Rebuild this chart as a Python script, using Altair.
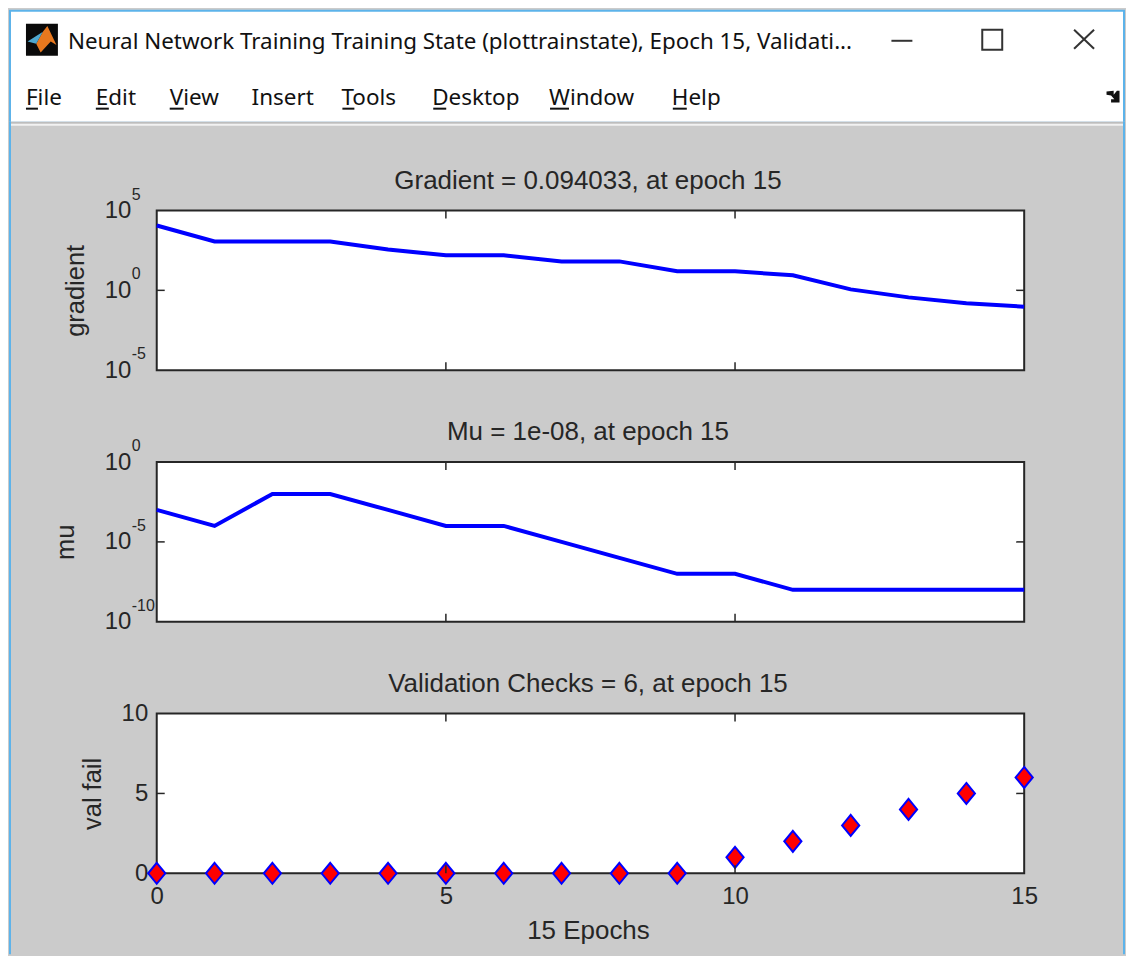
import altair as alt
import pandas as pd

epochs = list(range(16))
gradient = [11500, 1150, 1150, 1150, 363, 155, 155, 65, 65, 15.5, 15.5, 8.7, 1.15, 0.363, 0.155, 0.094033]
mu = [1e-3, 1e-4, 1e-2, 1e-2, 1e-3, 1e-4, 1e-4, 1e-5, 1e-6, 1e-7, 1e-7, 1e-8, 1e-8, 1e-8, 1e-8, 1e-8]
val_fail = [0, 0, 0, 0, 0, 0, 0, 0, 0, 0, 1, 2, 3, 4, 5, 6]
x_ticks = [5, 10]
window_title = "Neural Network Training Training State (plottrainstate), Epoch 15, Validati..."

FONT = "Liberation Sans"
UI = "Noto Sans"
INK = "#262626"
BG = "#cbcbcb"
X0, Y0 = 156, 209
W, H = 869, 160
RIGHT, BOTTOM = 1126, 954
dummy = alt.Data(values=[{"a": 1}])


def px(x):
    return alt.value(x - X0)


def py(y):
    return alt.value(y - Y0)


def text_at(label, x, y, size=22.5, font=UI, align="left", color="#111111"):
    return alt.Chart(dummy).mark_text(text=label, align=align, baseline="middle", fontSize=size,
                                      font=font, color=color).encode(x=px(x), y=py(y))


def box(x1, y1, x2, y2, **kw):
    return alt.Chart(dummy).mark_rect(**kw).encode(x=px(x1), x2=px(x2), y=py(y1), y2=py(y2))


def seg(x1, y1, x2, y2, color="#333333", w=2):
    return alt.Chart(dummy).mark_rule(color=color, strokeWidth=w).encode(x=px(x1), x2=px(x2), y=py(y1), y2=py(y2))


def glyph(path, x, y, size, color):
    return alt.Chart(dummy).mark_point(shape=path, filled=True, fill=color, stroke=None, opacity=1,
                                       size=size).encode(x=px(x), y=py(y))


def panel_title(label):
    return alt.Chart(dummy).mark_text(text=label, align="center", baseline="middle", fontSize=26, font=FONT,
                                      color=INK).encode(x=alt.value(432), y=alt.value(-30))


chrome = [
    box(8, 8, RIGHT, 120, color="#5cb3ea"),
    box(10, 10, RIGHT - 2, 120, color="#ffffff"),
    box(10, 120, RIGHT - 2, 122, color="#bdbdbd"),
    box(10, 122, RIGHT - 2, 124, color="#f2f2f2"),
    box(8, 120, 10, BOTTOM, color="#5cb3ea"),
    box(RIGHT - 2, 120, RIGHT, BOTTOM, color="#5cb3ea"),
    box(25, 22, 57, 54, color="#0a0a0a"),
    glyph("M0.34,-0.87L0.91,0.32L0.55,0.1L-0.08,0.79L-0.36,0.25L0.06,-0.5Z", 41, 38, 1024, "#e8781e"),
    glyph("M-0.9,0.1L0.06,-0.5L-0.36,0.25Z", 41, 38, 1024, "#4fa8cf"),
    text_at(window_title, 67, 40, size=22.4),
    seg(892, 39, 913, 39),
    box(983, 28, 1003, 48, fillOpacity=0, stroke="#333333", strokeWidth=2),
    seg(1075, 28, 1095, 47),
    seg(1075, 47, 1095, 28),
    glyph("M-1,-0.8L0.1,-0.9L0.1,-0.3L0.6,-0.9L1,-0.9L1,0.9L-0.3,0.9L-0.3,0.4L0.2,0.4L-0.3,-0.2L-1,-0.3Z",
          1114, 95, 170, "#111111"),
]
menu_labels = ["File", "Edit", "View", "Insert", "Tools", "Desktop", "Window", "Help"]
menu_chrome = [
    text_at(menu_labels[0], 25, 96), seg(25, 107, 37, 107, "#111111"),
    text_at(menu_labels[1], 95, 96), seg(95, 107, 108, 107, "#111111"),
    text_at(menu_labels[2], 169, 96), seg(169, 107, 183, 107, "#111111"),
    text_at(menu_labels[3], 251, 96),
    text_at(menu_labels[4], 341, 96), seg(342, 107, 354, 107, "#111111"),
    text_at(menu_labels[5], 432, 96), seg(433, 107, 446, 107, "#111111"),
    text_at(menu_labels[6], 549, 96), seg(550, 107, 569, 107, "#111111"),
    text_at(menu_labels[7], 672, 96), seg(673, 107, 687, 107, "#111111"),
]

x_scale = alt.Scale(domain=[0, 15], nice=False, zero=False)
x_axis_full = alt.Axis(values=[0, 5, 10, 15], grid=False, domain=False, ticks=False, labelFlush=False,
                       labelPadding=11, labelFont=FONT, labelFontSize=24, labelColor=INK,
                       title="15 Epochs", titleFont=FONT, titleFontSize=26, titleFontWeight="normal",
                       titleColor=INK, titleX=432, titleY=57, titleBaseline="middle", labelAngle=0)


def x_enc(show=False):
    return alt.X("epoch:Q", scale=x_scale, axis=x_axis_full if show else None)


def inward_ticks(y_scale, y_axis, y_tick, show_x=False):
    ty = alt.Chart(pd.DataFrame({"epoch": x_ticks}))
    layers = [
        ty.mark_rule(color=INK, strokeWidth=1.5).encode(x=x_enc(show_x), y=alt.value(0), y2=alt.value(8)),
        ty.mark_rule(color=INK, strokeWidth=1.5).encode(x=x_enc(show_x), y=alt.value(H - 8), y2=alt.value(H)),
    ]
    vt = alt.Chart(pd.DataFrame({"v": [y_tick]}))
    y_e = alt.Y("v:Q", scale=y_scale, axis=y_axis)
    layers += [
        vt.mark_rule(color=INK, strokeWidth=1.5).encode(y=y_e, x=alt.value(0), x2=alt.value(8)),
        vt.mark_rule(color=INK, strokeWidth=1.5).encode(y=y_e, x=alt.value(W - 8), x2=alt.value(W)),
    ]
    return layers


def log_panel(values, name, domain, exps, tx, title, extra):
    df = pd.DataFrame({"epoch": epochs, name: values})
    y_scale = alt.Scale(type="log", domain=domain, nice=False)
    y_axis = alt.Axis(values=[10.0 ** e for e in exps], labelExpr="'10'", grid=False, domain=False, ticks=False,
                      labelPadding=26, labelFont=FONT, labelFontSize=24, labelColor=INK, labelFlush=False,
                      labelOverlap=False,
                      title=name, titleFont=FONT, titleFontSize=25.5, titleFontWeight="normal", titleColor=INK,
                      titleX=tx, titleY=80, titleBaseline="middle", titleAlign="center", titleAnchor=None)
    line = alt.Chart(df).mark_line(color="#0000ff", strokeWidth=4).encode(
        x=x_enc(), y=alt.Y(f"{name}:Q", scale=y_scale, axis=y_axis))
    exp_df = pd.DataFrame({"v": [10.0 ** e for e in exps], "e": [str(e) for e in exps]})
    exp = alt.Chart(exp_df).mark_text(align="left", baseline="middle", dy=-16, dx=1, fontSize=16, font=FONT,
                                      color=INK).encode(
        x=alt.value(-26), y=alt.Y("v:Q", scale=y_scale, axis=y_axis), text="e:N")
    return alt.layer(*extra, line, *inward_ticks(y_scale, y_axis, 10.0 ** exps[1]), exp,
                     panel_title(title)).properties(width=W, height=H)


p1 = log_panel(gradient, "gradient", [1e-5, 1e5], [5, 0, -5], -81, "Gradient = 0.094033, at epoch 15",
               chrome + menu_chrome)
p2 = log_panel(mu, "mu", [1e-10, 1], [0, -5, -10], -91, "Mu = 1e-08, at epoch 15", [])

df3 = pd.DataFrame({"epoch": epochs, "val fail": val_fail})
y3 = alt.Scale(domain=[0, 10], nice=False)
y3_axis = alt.Axis(values=[0, 5, 10], grid=False, domain=False, ticks=False, labelPadding=9, labelFont=FONT,
                   labelFontSize=24, labelColor=INK, labelFlush=False, title="val fail", titleFont=FONT,
                   titleFontSize=25.5, titleFontWeight="normal", titleColor=INK, titleX=-64, titleY=80,
                   titleBaseline="middle", titleAlign="center", titleAnchor=None)
bottom_pad = alt.Chart(dummy).mark_rect(color=BG).encode(x=alt.value(-146), x2=alt.value(-145),
                                                         y=alt.value(H), y2=alt.value(BOTTOM - 713))
diamonds = alt.Chart(df3).mark_point(shape="M0,-1L0.82,0L0,1L-0.82,0Z", filled=True, fill="#ff0000",
                                     stroke="#0000ff", strokeWidth=2, size=441, opacity=1, clip=False).encode(
    x=x_enc(True), y=alt.Y("val fail:Q", scale=y3, axis=y3_axis))
p3 = alt.layer(bottom_pad, diamonds, *inward_ticks(y3, y3_axis, 5, True),
               panel_title("Validation Checks = 6, at epoch 15")).properties(width=W, height=H)

chart = alt.vconcat(p1, p2, p3, spacing=92, bounds="flush").properties(
    padding=0, background=BG
).configure_view(fill="#ffffff", stroke=INK, strokeWidth=2)

chart.save("out.html", embed_options={"renderer": "svg", "actions": False})
